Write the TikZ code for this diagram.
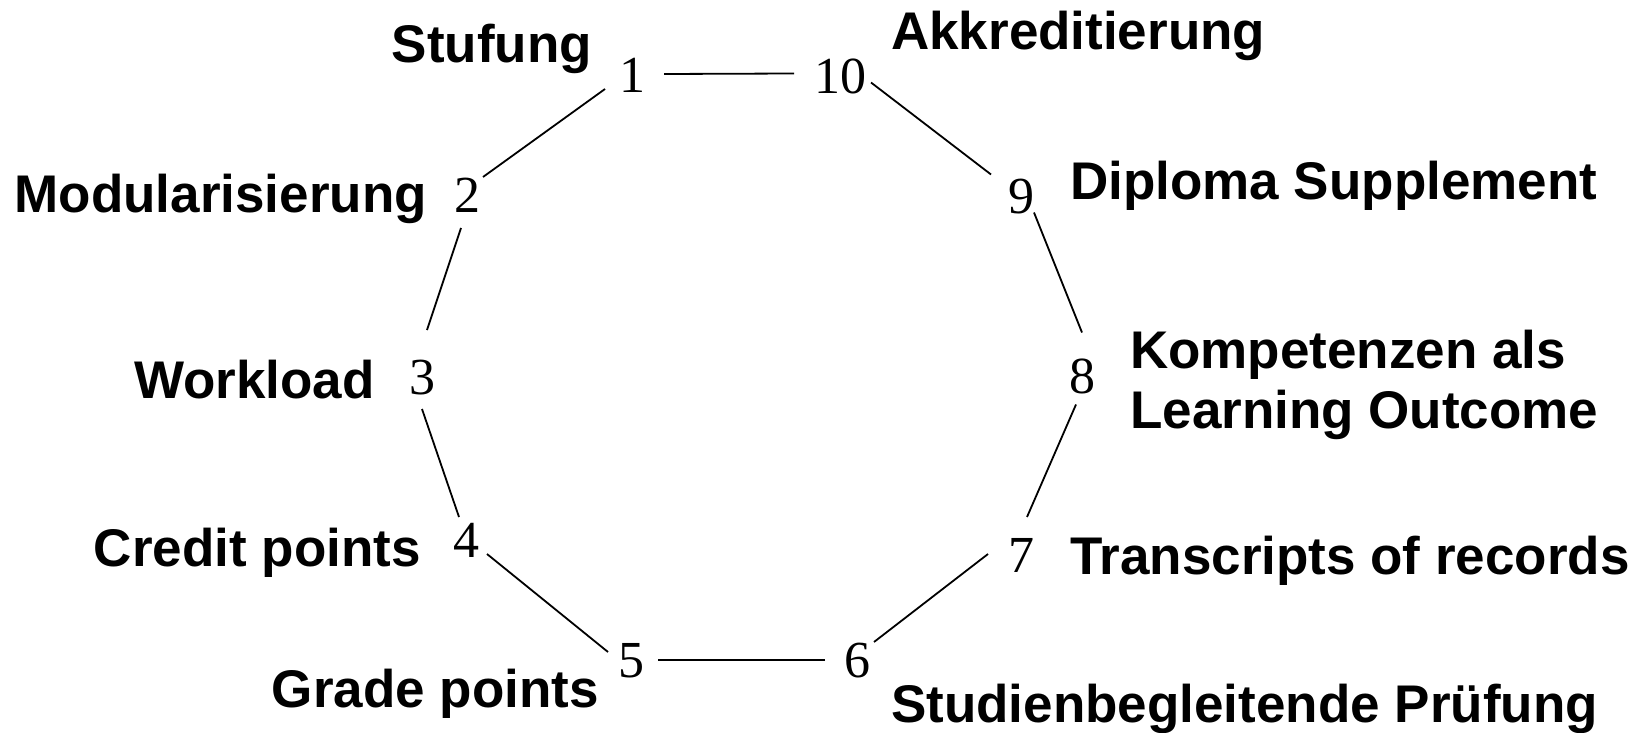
\documentclass[tikz,border=0pt]{standalone}
\usepackage{fontspec}
\setmainfont{Liberation Serif}
\newfontfamily\labfont{Liberation Sans}
\begin{document}
\begin{tikzpicture}[x=1pt,y=-1pt,
  num/.style={inner sep=0pt, anchor=center, font=\fontsize{52}{60}\selectfont},
  lableft/.style={inner sep=0pt, anchor=base east, font=\labfont\bfseries\fontsize{53}{60}\selectfont},
  labright/.style={inner sep=0pt, anchor=base west, font=\labfont\bfseries\fontsize{53}{60}\selectfont},
  conn/.style={line width=1.8pt, draw=black}]
\useasboundingbox[fill=white] (0,0) rectangle (1649,733);
% digits
\node[num] (n1)  at (632,75.5) {1};
\node[num] (n10) at (840,76) {10};
\node[num] (n2)  at (467,195.5) {2};
\node[num] (n9)  at (1021,196.5) {9};
\node[num] (n3)  at (422,377.5) {3};
\node[num] (n8)  at (1082,376.5) {8};
\node[num] (n4)  at (466,540.5) {4};
\node[num] (n7)  at (1021,555.5) {7};
\node[num] (n5)  at (631,660.5) {5};
\node[num] (n6)  at (857,660.5) {6};
% labels
\node[lableft] (l1) at (592,63) {Stufung};
\node[lableft] (l2) at (427,212) {Modularisierung};
\node[lableft] (l3) at (375,398) {Workload};
\node[lableft] (l4) at (421,566) {Credit points};
\node[lableft] (l5) at (599,707) {Grade points};
\node[labright] (l10) at (891,50) {Akkreditierung};
\node[labright] (l9) at (1070,199) {Diploma Supplement};
\node[labright] (l8a) at (1130,368) {Kompetenzen als};
\node[labright] (l8b) at (1130,428) {Learning Outcome};
\node[labright] (l7) at (1070,574) {Transcripts of records};
\node[labright] (l6) at (891,722) {Studienbegleitende Prüfung};
% connectors
\draw[conn] ([shift={(32,-1.5)}]n1.center) -- ([shift={(-46,-2.5)}]n10.center);
\draw[conn] ([shift={(31,6.5)}]n10.center) -- ([shift={(-30,-22)}]n9.center);
\draw[conn] ([shift={(13,16)}]n9.center) -- ([shift={(0,-44)}]n8.center);
\draw[conn] ([shift={(-6,28)}]n8.center) -- ([shift={(6,-38.5)}]n7.center);
\draw[conn] ([shift={(-33,-1.5)}]n7.center) -- ([shift={(17,-18.5)}]n6.center);
\draw[conn] ([shift={(-32,-0.5)}]n6.center) -- ([shift={(27,-0.5)}]n5.center);
\draw[conn] ([shift={(-23,-8.5)}]n5.center) -- ([shift={(21,13.5)}]n4.center);
\draw[conn] ([shift={(-7,-23.5)}]n4.center) -- ([shift={(0,31.5)}]n3.center);
\draw[conn] ([shift={(5,-47.5)}]n3.center) -- ([shift={(-6,32.5)}]n2.center);
\draw[conn] ([shift={(16,-18.5)}]n2.center) -- ([shift={(-27,13.5)}]n1.center);
\end{tikzpicture}
\end{document}
